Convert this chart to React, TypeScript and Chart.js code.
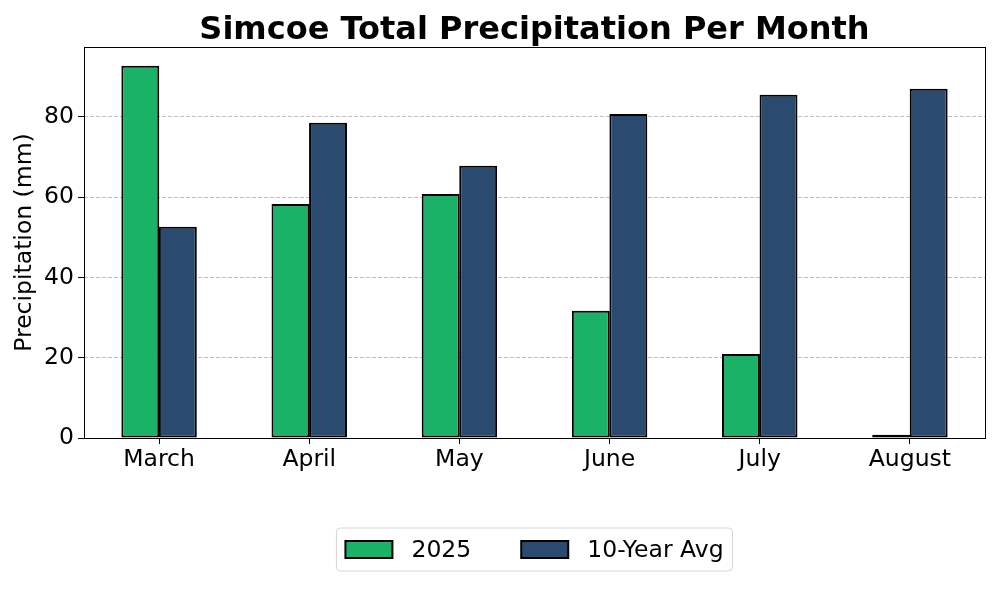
import { useEffect, useRef } from "react";
import { Chart, registerables } from "chart.js";

Chart.register(...registerables);

const months = ["March", "April", "May", "June", "July", "August"];
const values2025 = [92.7, 58.3, 60.8, 31.7, 20.9, 0.8];
const tenYearAvg = [52.6, 78.5, 67.8, 80.7, 85.5, 87.0];
const seriesLabels = ["2025", "10-Year Avg"];
const seriesColors = ["#1ab266", "#2b4a6f"];
const yMax = 97.4;
const yStep = 20;

const FONT = '"DejaVu Sans", "Liberation Sans", sans-serif';
const FS = 23.5;

const framePlugin = {
  id: "frame",
  afterDraw(chart: any) {
    const { ctx, chartArea: a } = chart;
    ctx.save();
    ctx.strokeStyle = "#000";
    ctx.lineWidth = 1;
    ctx.strokeRect(
      Math.round(a.left) + 0.5,
      Math.round(a.top) + 0.5,
      Math.round(a.right - a.left),
      Math.round(a.bottom - a.top)
    );
    ctx.restore();
  },
};

const legendPlugin = {
  id: "mplLegend",
  afterDraw(chart: any) {
    const { ctx, chartArea: a } = chart;
    ctx.save();
    ctx.font = `${FS}px ${FONT}`;
    const boxW = 47;
    const boxH = 17;
    const padX = 9;
    const gapText = 19;
    const gapItem = 50;
    const frameH = 43;
    const items = chart.data.datasets.map((ds: any) => ({
      label: ds.label,
      color: ds.backgroundColor,
      w: ctx.measureText(ds.label).width,
    }));
    let total = padX * 2 + gapItem * (items.length - 1);
    items.forEach((it: any) => (total += boxW + gapText + it.w));
    const cx = (a.left + a.right) / 2;
    const x0 = cx - total / 2;
    const y0 = a.bottom + 90;
    ctx.beginPath();
    const r = 4;
    ctx.moveTo(x0 + r, y0);
    ctx.lineTo(x0 + total - r, y0);
    ctx.arcTo(x0 + total, y0, x0 + total, y0 + r, r);
    ctx.lineTo(x0 + total, y0 + frameH - r);
    ctx.arcTo(x0 + total, y0 + frameH, x0 + total - r, y0 + frameH, r);
    ctx.lineTo(x0 + r, y0 + frameH);
    ctx.arcTo(x0, y0 + frameH, x0, y0 + frameH - r, r);
    ctx.lineTo(x0, y0 + r);
    ctx.arcTo(x0, y0, x0 + r, y0, r);
    ctx.closePath();
    ctx.fillStyle = "rgba(255,255,255,0.8)";
    ctx.fill();
    ctx.strokeStyle = "#d6d6d6";
    ctx.lineWidth = 1;
    ctx.stroke();
    const cy = y0 + frameH / 2;
    let x = x0 + padX;
    items.forEach((it: any) => {
      ctx.fillStyle = it.color;
      ctx.fillRect(x, cy - boxH / 2, boxW, boxH);
      ctx.strokeStyle = "#000";
      ctx.lineWidth = 2;
      ctx.strokeRect(x, cy - boxH / 2, boxW, boxH);
      ctx.fillStyle = "#000";
      ctx.textBaseline = "middle";
      ctx.textAlign = "left";
      ctx.fillText(it.label, x + boxW + gapText, cy + 1);
      x += boxW + gapText + it.w + gapItem;
    });
    ctx.restore();
  },
};

export default function App() {
  const ref = useRef<HTMLCanvasElement | null>(null);

  useEffect(() => {
    if (!ref.current) return;
    const chart = new Chart(ref.current, {
      type: "bar",
      data: {
        labels: months,
        datasets: [
          {
            label: seriesLabels[0],
            data: values2025,
            backgroundColor: seriesColors[0],
            borderColor: "#000",
            borderWidth: 2,
            borderSkipped: false,
          },
          {
            label: seriesLabels[1],
            data: tenYearAvg,
            backgroundColor: seriesColors[1],
            borderColor: "#000",
            borderWidth: 2,
            borderSkipped: false,
          },
        ],
      },
      options: {
        responsive: false,
        animation: false,
        datasets: {
          bar: { barPercentage: 1.01, categoryPercentage: 0.5 },
        },
        layout: { padding: { left: 0, right: 15, top: 0, bottom: 0 } },
        plugins: {
          legend: { display: false },
          tooltip: { enabled: false },
          title: {
            display: true,
            fullSize: false,
            text: "Simcoe Total Precipitation Per Month",
            color: "#000",
            font: { family: FONT, size: 32, weight: "bold", lineHeight: 1.1 },
            padding: { top: 13, bottom: -1.2 },
          },
        },
        scales: {
          x: {
            offset: true,
            grid: {
              offset: false,
              drawOnChartArea: false,
              tickColor: "#000",
              tickLength: 6,
              tickWidth: 1,
            },
            border: { display: false },
            ticks: {
              color: "#000",
              font: { family: FONT, size: FS },
              padding: 2,
              maxRotation: 0,
            },
            afterFit(scale: any) {
              scale.height = 162;
            },
          },
          y: {
            min: 0,
            max: yMax,
            grid: {
              color: "#b0b0b0",
              lineWidth: 0.8,
              tickColor: "#000",
              tickLength: 6,
              tickWidth: 1,
              tickBorderDash: [],
            },
            border: { display: false, dash: [4, 2] },
            ticks: {
              stepSize: yStep,
              includeBounds: false,
              color: "#000",
              font: { family: FONT, size: FS },
              padding: 4,
            },
            title: {
              display: true,
              text: "Precipitation (mm)",
              color: "#000",
              font: { family: FONT, size: FS },
              padding: { top: 11, bottom: 0 },
            },
            afterFit(scale: any) {
              scale.width = 84;
            },
          },
        },
      },
      plugins: [framePlugin, legendPlugin],
    } as any);
    return () => chart.destroy();
  }, []);

  return (
    <div style={{ position: "fixed", left: 0, top: 0, width: 1000, height: 600, background: "#fff" }}>
      <canvas ref={ref} width={1000} height={600} />
    </div>
  );
}
